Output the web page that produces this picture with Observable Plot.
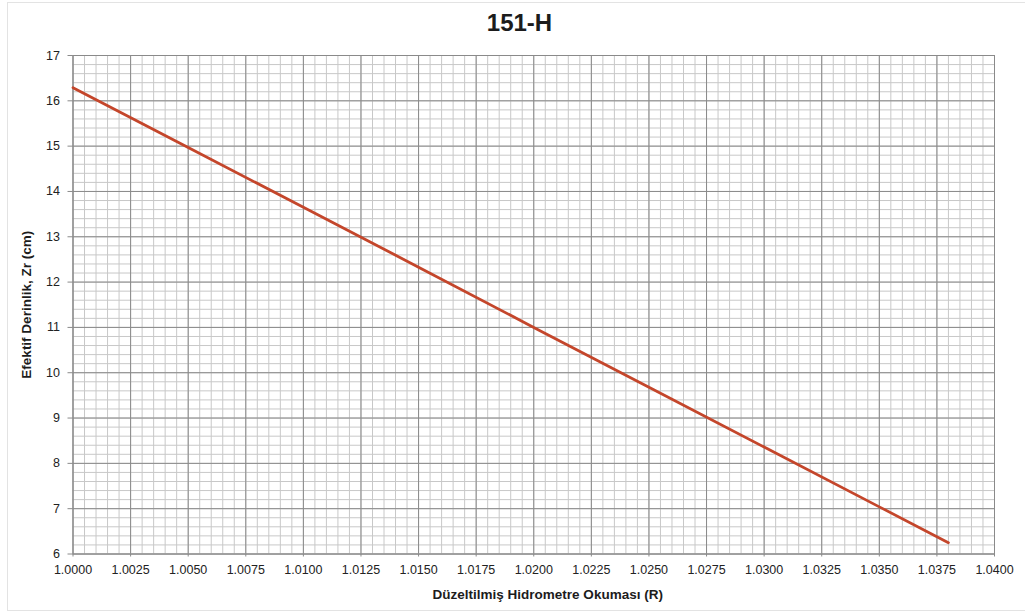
<!DOCTYPE html>
<html>
<head>
<meta charset="utf-8">
<script src="https://cdn.jsdelivr.net/npm/d3@7"></script>
<script src="https://cdn.jsdelivr.net/npm/@observablehq/plot@0.6"></script>
<style>
  body { margin: 0; background: #fff; font-family: "Liberation Sans", Arial, sans-serif; }
  #chart { position: relative; width: 1025px; height: 614px; overflow: hidden; }
  #frame { position: absolute; left: 7px; top: 2px; width: 1030px; height: 609px; border: 1px solid #e3e3e3; box-sizing: border-box; }
  #title { position: absolute; top: 9px; left: 0; width: 1025px; text-align: center; padding-left: 14px; box-sizing: border-box;
           font-weight: bold; font-size: 24px; color: #1c1c1c; }
  #plot { position: absolute; left: 0; top: 0; }
</style>
</head>
<body>
<div id="chart">
  <div id="frame"></div>
  <div id="plot"></div>
  <div id="title">151-H</div>
</div>
<script>
// 151-H hydrometer: corrected reading R vs effective depth Zr (cm)
const readings = [1.0000, 1.0050, 1.0100, 1.0150, 1.0200, 1.0250, 1.0300, 1.0350, 1.0380];
const depths   = [16.29, 14.97, 13.65, 12.33, 11.00, 9.68, 8.36, 7.04, 6.25];

const xTicks = [1.0000, 1.0025, 1.0050, 1.0075, 1.0100, 1.0125, 1.0150, 1.0175, 1.0200,
                1.0225, 1.0250, 1.0275, 1.0300, 1.0325, 1.0350, 1.0375, 1.0400];
const yTicks = [6, 7, 8, 9, 10, 11, 12, 13, 14, 15, 16, 17];

const xLabel = "Düzeltilmiş Hidrometre Okuması (R)";
const yLabel = "Efektif Derinlik, Zr (cm)";

const data = readings.map((r, i) => ({R: r, Z: depths[i]}));

// fine graph-paper grid: 5 subdivisions between labelled ticks
const xMinor = d3.range(0, 81).map(i => 1 + i * 0.0005);
const yMinor = d3.range(0, 56).map(i => 6 + i * 0.2);

const minorColor = "#c8c8c8";
const majorColor = "#8a8a8a";

const chart = Plot.plot({
  width: 1025,
  height: 614,
  marginTop: 55,
  marginBottom: 60.5,
  marginLeft: 72.5,
  marginRight: 31,
  style: { fontFamily: "'Liberation Sans', Arial, sans-serif", fontSize: "12.5px", color: "#222", background: "transparent" },
  x: { domain: [1.0, 1.04], label: null },
  y: { domain: [6, 17], label: null },
  marks: [
    Plot.ruleX(xMinor, { stroke: minorColor, strokeWidth: 1 }),
    Plot.ruleY(yMinor, { stroke: minorColor, strokeWidth: 1 }),
    Plot.ruleX(xTicks, { stroke: majorColor, strokeWidth: 1 }),
    Plot.ruleY(yTicks, { stroke: majorColor, strokeWidth: 1 }),
    Plot.axisX({ ticks: xTicks, tickFormat: d3.format(".4f"), tickSize: 3, tickPadding: 8.5, stroke: majorColor, fill: "#222", label: null }),
    Plot.axisY({ ticks: yTicks, tickSize: 5, tickPadding: 8, stroke: majorColor, fill: "#222", label: null }),
    Plot.frame({ stroke: majorColor }),
    Plot.line(data, { x: "R", y: "Z", stroke: "#c4462b", strokeWidth: 2.8, strokeLinecap: "round" }),
    Plot.text([yLabel], { frameAnchor: "left", dx: -46.5, rotate: -90, text: d => d,
                          fontWeight: "bold", fontSize: 13.5, fill: "#1c1c1c", lineAnchor: "middle", textAnchor: "middle" }),
    Plot.text([xLabel], { frameAnchor: "bottom", dx: 14, dy: 40.5, text: d => d,
                          fontWeight: "bold", fontSize: 13.5, fill: "#1c1c1c", lineAnchor: "middle", textAnchor: "middle" })
  ]
});

document.getElementById("plot").appendChild(chart);
</script>
</body>
</html>
